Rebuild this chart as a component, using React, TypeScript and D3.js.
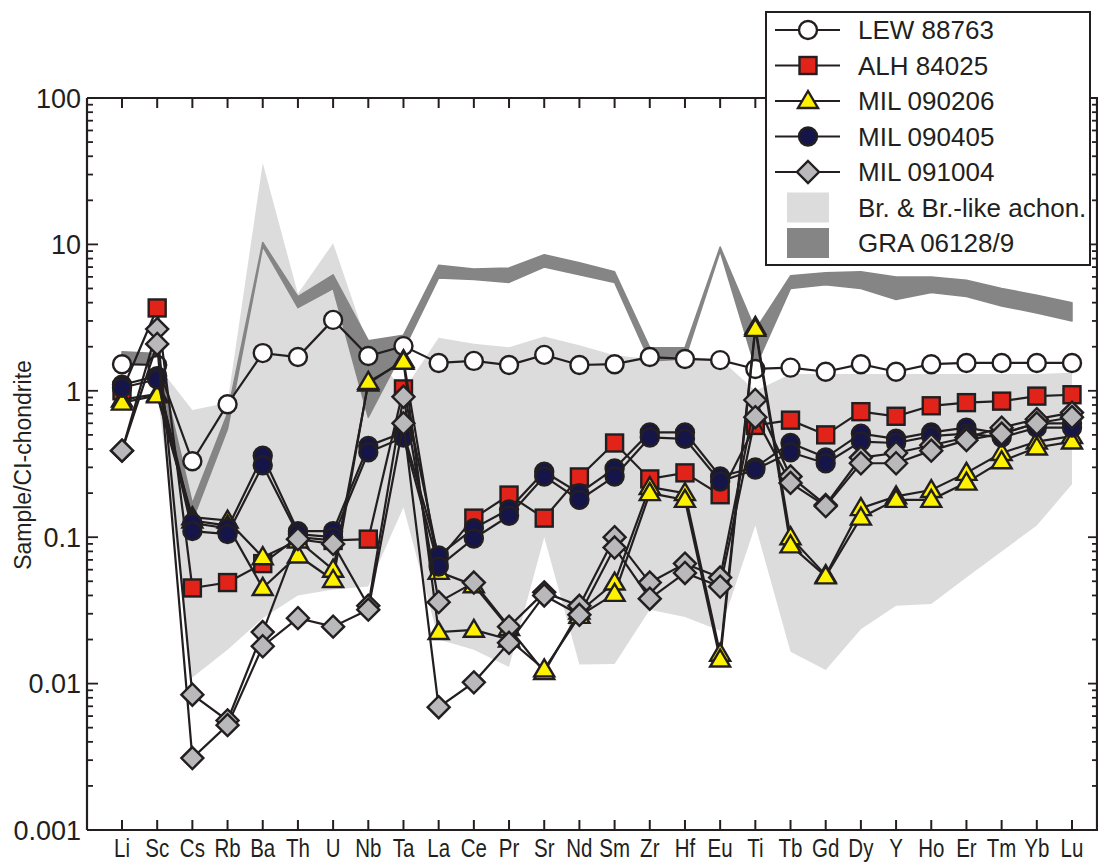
import React from "react";
import * as d3 from "d3";

const elements = ["Li","Sc","Cs","Rb","Ba","Th","U","Nb","Ta","La","Ce","Pr","Sr","Nd","Sm","Zr","Hf","Eu","Ti","Tb","Gd","Dy","Y","Ho","Er","Tm","Yb","Lu"];
const yTicks = [0.001, 0.01, 0.1, 1, 10, 100];
const yTickLabels = ["0.001", "0.01", "0.1", "1", "10", "100"];

// Br. & Br.-like achondrites field (null = not drawn)
const brUpper = [null, 1.5, 0.74, 0.83, 36, 4.6, 10.2, 2.0, 1.0, 2.3, 2.1, 1.98, 2.35, 2.05, 1.75, 1.65, 1.7, 1.65, 1.0, 1.3, 1.3, 1.3, 1.3, 1.3, 1.3, 1.3, 1.3, 1.33];
const brLower = [null, 1.0, 0.011, 0.017, 0.028, 0.04, 0.044, 0.046, 0.16, 0.02, 0.017, 0.013, 0.1, 0.0135, 0.0136, 0.032, 0.0285, 0.023, 0.12, 0.0165, 0.0124, 0.0235, 0.034, 0.035, 0.053, 0.08, 0.12, 0.23];
// GRA 06128/9 field
const graUpper = [1.85, 1.8, 0.17, 0.7, 10.3, 4.4, 6.2, 2.2, 2.4, 7.2, 6.8, 6.9, 8.5, 7.5, 6.5, 1.97, 1.97, 9.6, 2.6, 6.1, 6.4, 6.5, 6.0, 6.0, 5.7, 5.0, 4.5, 4.0];
const graLower = [1.55, 1.5, 0.13, 0.55, 9.7, 3.7, 5.0, 0.66, 1.9, 5.9, 5.75, 5.5, 7.0, 6.2, 5.5, 1.6, 1.65, 9.0, 1.45, 5.0, 5.3, 5.0, 4.2, 4.7, 4.4, 3.8, 3.4, 3.0];

const lew88763 = [1.52, 1.5, 0.33, 0.81, 1.81, 1.70, 3.05, 1.73, 2.02, 1.55, 1.60, 1.50, 1.76, 1.50, 1.52, 1.70, 1.65, 1.62, 1.41, 1.44, 1.35, 1.52, 1.35, 1.52, 1.55, 1.55, 1.55, 1.55];
const alh84025 = [1.0, 3.68, 0.045, 0.049, 0.066, 0.1, 0.095, 0.097, 1.03, 0.07, 0.135, 0.194, 0.135, 0.258, 0.44, 0.25, 0.275, 0.195, 0.58, 0.63, 0.50, 0.72, 0.67, 0.79, 0.83, 0.85, 0.92, 0.94];
const mil090206a = [0.87, 0.95, 0.137, 0.13, 0.073, 0.095, 0.060, 1.12, 1.62, 0.058, 0.047, 0.024, 0.012, 0.031, 0.049, 0.22, 0.20, 0.016, 2.73, 0.10, 0.055, 0.158, 0.19, 0.21, 0.275, 0.376, 0.45, 0.49];
const mil090206b = [0.83, 0.93, 0.13, 0.12, 0.045, 0.075, 0.051, 1.15, 1.58, 0.0225, 0.0233, 0.02, 0.0125, 0.029, 0.041, 0.20, 0.18, 0.0146, 2.65, 0.088, 0.054, 0.136, 0.18, 0.18, 0.236, 0.33, 0.41, 0.45];
const mil090405a = [1.1, 1.26, 0.125, 0.115, 0.36, 0.11, 0.11, 0.42, 0.52, 0.075, 0.115, 0.155, 0.28, 0.20, 0.295, 0.52, 0.52, 0.26, 0.30, 0.44, 0.35, 0.51, 0.47, 0.52, 0.56, 0.51, 0.60, 0.60];
const mil090405b = [1.05, 1.2, 0.11, 0.105, 0.31, 0.105, 0.10, 0.38, 0.48, 0.063, 0.098, 0.14, 0.26, 0.18, 0.26, 0.48, 0.47, 0.24, 0.29, 0.38, 0.32, 0.45, 0.44, 0.49, 0.51, 0.48, 0.56, 0.56];
const mil091004a = [0.39, 2.64, 0.0084, 0.0056, 0.0225, 0.097, 0.09, 0.034, 0.91, 0.036, 0.049, 0.0245, 0.042, 0.034, 0.10, 0.049, 0.066, 0.053, 0.865, 0.26, 0.166, 0.35, 0.376, 0.425, 0.48, 0.56, 0.64, 0.71];
const mil091004b = [0.39, 2.09, 0.0031, 0.0052, 0.018, 0.028, 0.0245, 0.032, 0.60, 0.0069, 0.0102, 0.019, 0.040, 0.0295, 0.085, 0.038, 0.057, 0.046, 0.66, 0.235, 0.163, 0.32, 0.32, 0.39, 0.46, 0.51, 0.60, 0.66];

const seriesNames = ["LEW 88763", "ALH 84025", "MIL 090206", "MIL 090405", "MIL 091004"];

const W = 1098, H = 862;
const L = 87, R = 1097, T = 98, B = 830;

const x = d3.scalePoint<string>().domain(elements).range([122, 1072]);
const y = d3.scaleLog().domain([0.001, 100]).range([B, T]);

type Shape = "circle" | "square" | "triangle" | "diamond";
const styles: { shape: Shape; fill: string }[] = [
  { shape: "circle", fill: "#ffffff" },
  { shape: "square", fill: "#e2231a" },
  { shape: "triangle", fill: "#fff200" },
  { shape: "circle", fill: "#16154a" },
  { shape: "diamond", fill: "#b9b9bb" },
];

const INK = "#231f20";

function Marker({ shape, fill, cx, cy }: { shape: Shape; fill: string; cx: number; cy: number }) {
  const sw = 2.4;
  if (shape === "circle") return <circle cx={cx} cy={cy} r={9} fill={fill} stroke={INK} strokeWidth={sw} />;
  if (shape === "square") return <rect x={cx - 8.5} y={cy - 8.5} width={17} height={17} fill={fill} stroke={INK} strokeWidth={sw} />;
  if (shape === "triangle") {
    const p = `${cx},${cy - 10} ${cx + 10},${cy + 7} ${cx - 10},${cy + 7}`;
    return <polygon points={p} fill={fill} stroke={INK} strokeWidth={sw} strokeLinejoin="miter" />;
  }
  const p = `${cx},${cy - 11} ${cx + 11},${cy} ${cx},${cy + 11} ${cx - 11},${cy}`;
  return <polygon points={p} fill={fill} stroke={INK} strokeWidth={sw} />;
}

const bandArea = (up: (number | null)[], lo: (number | null)[]) =>
  d3
    .area<number>()
    .defined((i) => up[i] != null && lo[i] != null)
    .x((i) => x(elements[i]) as number)
    .y0((i) => y(lo[i] as number))
    .y1((i) => y(up[i] as number))(elements.map((_, i) => i)) || "";

const lineGen = d3
  .line<[string, number]>()
  .x((d) => x(d[0]) as number)
  .y((d) => y(d[1]));

export default function App() {
  const groups: { style: number; data: number[][] }[] = [
    { style: 0, data: [lew88763] },
    { style: 1, data: [alh84025] },
    { style: 2, data: [mil090206a, mil090206b] },
    { style: 3, data: [mil090405a, mil090405b] },
    { style: 4, data: [mil091004a, mil091004b] },
  ];

  const minorTicks: number[] = [];
  for (let e = -3; e < 2; e++) for (let k = 2; k <= 9; k++) minorTicks.push(k * Math.pow(10, e));

  const legendX = 766, legendY = 12, rowH = 35.5;
  const font = "Liberation Sans, Arial, Helvetica, sans-serif";

  return (
    <svg width={W} height={H} style={{ position: "absolute", left: 0, top: 0, background: "#fff" }} fontFamily={font}>
      <rect x={0} y={0} width={W} height={H} fill="#fff" />
      {/* fields */}
      <path d={bandArea(brUpper, brLower)} fill="#dcdcdc" />
      <path d={bandArea(graUpper, graLower)} fill="#858585" stroke="#858585" strokeWidth={1.5} strokeLinejoin="round" />

      {/* series */}
      {groups.map((g, gi) => (
        <g key={gi}>
          {g.data.map((arr, ai) => (
            <path key={"l" + ai} d={lineGen(elements.map((el, i) => [el, arr[i]] as [string, number])) || ""} fill="none" stroke={INK} strokeWidth={2.2} />
          ))}
          {g.data.map((arr, ai) => (
            <g key={"m" + ai}>
              {elements.map((el, i) => (
                <Marker key={el} shape={styles[g.style].shape} fill={styles[g.style].fill} cx={x(el) as number} cy={y(arr[i])} />
              ))}
            </g>
          ))}
        </g>
      ))}

      {/* axes frame */}
      <g stroke={INK} strokeWidth={2.2} fill="none">
        <line x1={L} y1={T} x2={R + 2} y2={T} />
        <line x1={L} y1={B} x2={R + 2} y2={B} />
        <line x1={L} y1={T} x2={L} y2={B} />
        <line x1={R} y1={T} x2={R} y2={B} />
      </g>
      {/* x ticks */}
      <g stroke={INK} strokeWidth={2}>
        {elements.map((el) => (
          <g key={el}>
            <line x1={x(el)} x2={x(el)} y1={T} y2={T + 10} />
            <line x1={x(el)} x2={x(el)} y1={B} y2={B - 10} />
          </g>
        ))}
      </g>
      {/* y ticks */}
      <g stroke={INK} strokeWidth={1.8}>
        {yTicks.map((v) => (
          <g key={v}>
            <line x1={L} x2={L + 11} y1={y(v)} y2={y(v)} />
            <line x1={R} x2={R - 9} y1={y(v)} y2={y(v)} />
          </g>
        ))}
        {minorTicks.map((v) => (
          <g key={v}>
            <line x1={L} x2={L + 6} y1={y(v)} y2={y(v)} />
            <line x1={R} x2={R - 5} y1={y(v)} y2={y(v)} />
          </g>
        ))}
      </g>
      {/* y tick labels */}
      {yTicks.map((v, i) => (
        <text key={v} x={81} y={y(v)} dy="0.36em" textAnchor="end" fontSize={27} fill={INK}>
          {yTickLabels[i]}
        </text>
      ))}
      {/* x tick labels */}
      {elements.map((el) => (
        <text key={el} transform={`translate(${x(el)},857) scale(0.82,1)`} textAnchor="middle" fontSize={25} fill={INK}>
          {el}
        </text>
      ))}
      {/* y axis title */}
      <text transform={`translate(31,465) rotate(-90)`} textAnchor="middle" fontSize={23} fill={INK}>
        Sample/CI-chondrite
      </text>

      {/* legend */}
      <rect x={legendX} y={legendY} width={324} height={253} fill="#fff" stroke={INK} strokeWidth={2} />
      {seriesNames.map((name, i) => {
        const cy = legendY + 18 + i * rowH;
        return (
          <g key={name}>
            <line x1={775} x2={840} y1={cy} y2={cy} stroke={INK} strokeWidth={2.2} />
            <Marker shape={styles[i].shape} fill={styles[i].fill} cx={808} cy={cy} />
            <text x={858} y={cy} dy="0.36em" fontSize={26} fill={INK}>
              {name}
            </text>
          </g>
        );
      })}
      <rect x={787} y={legendY + 18 + 5 * rowH - 15} width={42} height={30} fill="#dcdcdc" />
      <text x={858} y={legendY + 18 + 5 * rowH} dy="0.36em" fontSize={26} fill={INK}>
        Br. &amp; Br.-like achon.
      </text>
      <rect x={787} y={legendY + 18 + 6 * rowH - 15} width={42} height={30} fill="#858585" />
      <text x={858} y={legendY + 18 + 6 * rowH} dy="0.36em" fontSize={26} fill={INK}>
        GRA 06128/9
      </text>
    </svg>
  );
}
